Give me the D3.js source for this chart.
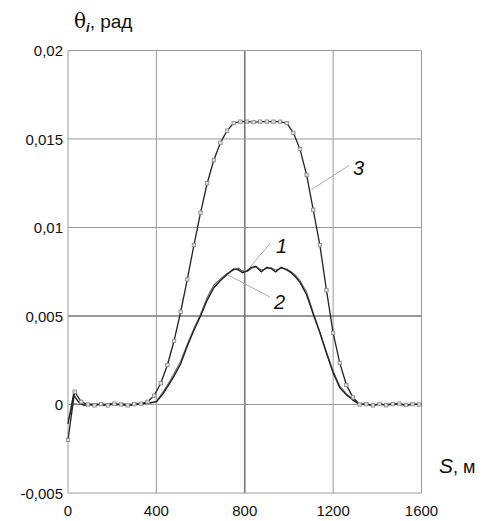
<!DOCTYPE html>
<html><head><meta charset="utf-8">
<script src="https://cdn.jsdelivr.net/npm/d3@7"></script>
<style>
body{margin:0;background:#fff;}
text{font-family:"Liberation Sans",Arial,sans-serif;}
</style></head>
<body><svg id="c" width="489" height="521"></svg>
<script>
// Data (theta values in units of 0.001 rad)
const xTicks = [0, 400, 800, 1200, 1600];
const yTicks = [-0.005, 0, 0.005, 0.01, 0.015, 0.02];
const yTickLabels = ["-0,005", "0", "0,005", "0,01", "0,015", "0,02"];

const s3 = [0,30,60,90,120,150,180,210,240,270,300,330,360,390,420,450,480,510,540,570,600,630,660,690,720,750,780,810,840,870,900,930,960,990,1020,1050,1080,1110,1140,1170,1200,1230,1260,1290,1320,1350,1380,1410,1440,1470,1500,1530,1560,1590];
const theta3 = [-2.0,0.72,0.15,0.0,-0.05,0.02,-0.05,0.05,0.0,-0.05,0.02,0.05,0.15,0.5,1.2,2.23,3.6,5.24,7.07,9.01,10.84,12.5,13.81,14.79,15.47,15.9,15.98,15.98,15.95,15.98,15.98,15.98,15.98,15.9,15.35,14.43,12.97,11.0,9.0,6.45,4.05,2.35,1.1,0.4,0.0,0.02,-0.05,0.03,-0.04,0.02,0.05,-0.03,0.02,0.0];

const s1 = [0,25,50,75,100,130,160,190,220,250,280,310,340,370,400,430,460,480,510,540,570,600,630,660,690,720,750,770,790,810,830,850,875,900,920,940,965,990,1010,1030,1050,1080,1110,1140,1170,1200,1230,1260,1290,1320,1350,1380,1410,1440,1470,1500,1530,1560,1600];
const theta1 = [-1.1,0.55,0.1,-0.05,0.0,0.03,-0.04,0.05,-0.02,0.03,-0.05,0.02,0.05,0.08,0.15,0.6,1.2,1.6,2.3,3.3,4.2,5.0,5.9,6.6,7.0,7.35,7.65,7.62,7.45,7.55,7.75,7.8,7.5,7.75,7.68,7.5,7.75,7.6,7.45,7.2,6.9,6.2,5.1,4.05,2.9,1.8,0.95,0.55,0.25,0.0,0.03,-0.04,0.02,-0.03,0.04,0.0,-0.03,0.02,0.0];

const s2 = [0,25,50,75,100,130,160,190,220,250,280,310,340,370,400,430,460,480,510,540,570,600,630,660,690,720,750,770,790,810,830,850,875,900,920,940,965,990,1010,1030,1050,1080,1110,1140,1170,1200,1230,1260,1290,1320,1350,1380,1410,1440,1470,1500,1530,1560,1600];
const theta2 = [-0.9,0.05,0.0,-0.03,0.02,-0.02,0.04,-0.03,0.02,-0.04,0.03,0.0,0.04,0.1,0.2,0.7,1.3,1.75,2.45,3.4,4.3,5.1,6.05,6.75,7.1,7.4,7.6,7.7,7.55,7.5,7.68,7.8,7.6,7.68,7.72,7.6,7.7,7.65,7.5,7.3,7.0,6.35,5.2,4.1,2.95,1.9,1.05,0.6,0.3,0.02,0.0,-0.02,0.03,-0.02,0.02,0.03,-0.02,0.0,0.0];

const svg = d3.select("#c");
const x = d3.scaleLinear().domain([0,1600]).range([68,421.5]);
const y = d3.scaleLinear().domain([-0.005,0.02]).range([493,50.5]);

// grid
const g = svg.append("g");
xTicks.forEach(t=>{
  g.append("line").attr("x1",x(t)).attr("x2",x(t)).attr("y1",y(0.02)).attr("y2",y(-0.005))
   .attr("stroke", t===800?"#777":"#9a9a9a").attr("stroke-width", t===800?1.6:1);
});
yTicks.forEach(t=>{
  g.append("line").attr("x1",x(0)).attr("x2",x(1600)).attr("y1",y(t)).attr("y2",y(t))
   .attr("stroke", t===0.005?"#777":"#9a9a9a").attr("stroke-width", t===0.005?1.6:1);
});

// tick labels
yTicks.forEach((t,i)=>{
  svg.append("text").attr("x",63).attr("y",y(t)+5.5).attr("text-anchor","end")
    .attr("font-size",15).attr("fill","#111").text(yTickLabels[i]);
});
xTicks.forEach(t=>{
  svg.append("text").attr("x",x(t)).attr("y",516).attr("text-anchor","middle")
    .attr("font-size",15).attr("fill","#111").text(t);
});

const line = d3.line().x(d=>x(d[0])).y(d=>y(d[1]/1000));
const d1 = s1.map((s,i)=>[s,theta1[i]]);
const d2 = s2.map((s,i)=>[s,theta2[i]]);
const d3d = s3.map((s,i)=>[s,theta3[i]]);

svg.append("path").attr("d",line(d2)).attr("fill","none").attr("stroke","#666").attr("stroke-width",1.1);
svg.append("path").attr("d",line(d1)).attr("fill","none").attr("stroke","#222").attr("stroke-width",1.4);
svg.append("path").attr("d",line(d3d)).attr("fill","none").attr("stroke","#222").attr("stroke-width",1.3);
svg.selectAll(".m").data(d3d).enter().append("rect")
  .attr("x",d=>x(d[0])-1.7).attr("y",d=>y(d[1]/1000)-1.7).attr("width",3.4).attr("height",3.4)
  .attr("fill","#ddd").attr("stroke","#888").attr("stroke-width",0.8);

// leader lines & labels
const lead = [[349,165.5,311.5,189.5],[270,243.5,250,267],[270,297,228,275]];
lead.forEach(l=>svg.append("line").attr("x1",l[0]).attr("y1",l[1]).attr("x2",l[2]).attr("y2",l[3]).attr("stroke","#aaa").attr("stroke-width",1));
const labs = [["3",353,175],["1",276,253],["2",274,309]];
labs.forEach(l=>svg.append("text").attr("x",l[1]).attr("y",l[2]).attr("font-size",20).attr("font-style","italic").attr("fill","#111").text(l[0]));

// axis titles
const yt = svg.append("text").attr("x",74).attr("y",28).attr("font-size",19).attr("fill","#111");
yt.append("tspan").attr("font-family","DejaVu Serif, serif").attr("font-size",20).text("θ");
yt.append("tspan").attr("font-style","italic").attr("font-weight","bold").attr("font-size",13).attr("dy",4).text("i");
yt.append("tspan").attr("dy",-4).text(", рад");

const xt = svg.append("text").attr("x",439).attr("y",473).attr("font-size",21).attr("fill","#111");
xt.append("tspan").attr("font-style","italic").text("S");
xt.append("tspan").attr("font-size",18).text(", м");
</script></body></html>
